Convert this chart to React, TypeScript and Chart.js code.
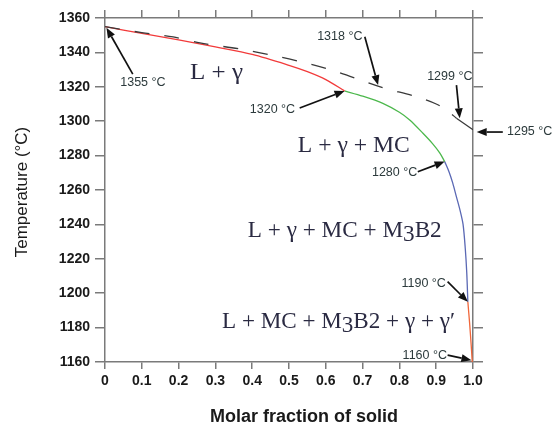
import React, { useEffect, useRef } from 'react';
import { Chart, registerables } from 'chart.js';

Chart.register(...registerables);

// ---- data ----
const xTickLabels = ['0', '0.1', '0.2', '0.3', '0.4', '0.5', '0.6', '0.7', '0.8', '0.9', '1.0'];
const yMin = 1160;
const yMax = 1360;
const yStep = 20;

// Dashed curve (equilibrium liquidus path)
const dashedX = [0, 0.1, 0.185, 0.258, 0.366, 0.45, 0.537, 0.629, 0.746, 0.846, 0.9, 0.928, 0.955];
const dashedT = [1355, 1351.5, 1349, 1345.5, 1342, 1338.5, 1334.3, 1328.8, 1320.1, 1314.2, 1310, 1306.5, 1301.7];
const dashedTailX = [0.955, 1.0];
const dashedTailT = [1301.7, 1295];

// Solidification path segments
const redX = [0, 0.1, 0.2, 0.3, 0.4, 0.5, 0.55, 0.6, 0.651];
const redT = [1355, 1351, 1347.3, 1343.2, 1338.8, 1332.5, 1328.8, 1324.2, 1317.6];
const greenX = [0.651, 0.7, 0.755, 0.8, 0.828, 0.864, 0.89, 0.91, 0.923];
const greenT = [1317.6, 1314.6, 1310.4, 1305.2, 1300.7, 1293, 1287, 1281.5, 1276.5];
const blueX = [0.923, 0.935, 0.945, 0.955, 0.965, 0.973, 0.979, 0.983, 0.986];
const blueT = [1276.5, 1270.5, 1264, 1256, 1248, 1240, 1226, 1212, 1195];
const orangeX = [0.986, 0.991, 0.995, 0.998];
const orangeT = [1195, 1182, 1170, 1160];

// Arrow annotations: label, label centre, arrow tail, arrow head (data coords)
const arrowLabels = ['1355 °C', '1320 °C', '1318 °C', '1299 °C', '1295 °C', '1280 °C', '1190 °C', '1160 °C'];
const arrowTextX = [0.103, 0.455, 0.638, 0.937, 1.154, 0.787, 0.866, 0.869];
const arrowTextT = [1322.2, 1306.5, 1349.2, 1325.7, 1293.8, 1269.9, 1205.9, 1164];
const arrowTailX = [0.0755, 0.529, 0.706, 0.955, 1.081, 0.85, 0.931, 0.931];
const arrowTailT = [1327.4, 1307.7, 1349.1, 1321, 1293.7, 1270.6, 1206.7, 1164];
const arrowHeadX = [0.004, 0.651, 0.742, 0.964, 1.01, 0.923, 0.986, 0.9957];
const arrowHeadT = [1354.3, 1317.6, 1321, 1301.7, 1293.7, 1276.5, 1195, 1161];

// Phase-region labels
const regionRuns = [
  [{ t: 'L + γ', dy: 0 }],
  [{ t: 'L + γ + MC', dy: 0 }],
  [{ t: 'L + γ + MC + M', dy: 0 }, { t: '3', dy: 4 }, { t: 'B2', dy: 0 }],
  [{ t: 'L + MC + M', dy: 0 }, { t: '3', dy: 4 }, { t: 'B2 + γ + γ′', dy: 0 }],
];
const regionX = [0.231, 0.524, 0.388, 0.318];
const regionT = [1324.4, 1282.1, 1232.9, 1179.8];
const regionW = [0.144, 0.304, 0.527, 0.633];
const regionSize = [24, 24, 24, 23];

const xTitle = 'Molar fraction of solid';
const yTitle = 'Temperature (°C)';

const pts = (xs: number[], ys: number[]) => xs.map((x, i) => ({ x, y: ys[i] }));

const AXIS = '#7a7a7a';
const TICK_FONT = { family: "'Liberation Sans', Arial, sans-serif", size: 14, weight: 'bold' as const };

const overlayPlugin = {
  id: 'overlay',
  afterDatasetsDraw(chart: any) {
    const ctx = chart.ctx as CanvasRenderingContext2D;
    const xs = chart.scales.x;
    const ys = chart.scales.y;
    const px = (v: number) => xs.getPixelForValue(v);
    const py = (v: number) => ys.getPixelForValue(v);

    ctx.save();
    // arrows
    for (let i = 0; i < arrowLabels.length; i++) {
      const x1 = px(arrowTailX[i]);
      const y1 = py(arrowTailT[i]);
      const x2 = px(arrowHeadX[i]);
      const y2 = py(arrowHeadT[i]);
      const ang = Math.atan2(y2 - y1, x2 - x1);
      const hl = 10;
      const hw = 4;
      const bx = x2 - hl * Math.cos(ang);
      const by = y2 - hl * Math.sin(ang);
      ctx.strokeStyle = '#111';
      ctx.fillStyle = '#111';
      ctx.lineWidth = 1.7;
      ctx.beginPath();
      ctx.moveTo(x1, y1);
      ctx.lineTo(bx, by);
      ctx.stroke();
      ctx.beginPath();
      ctx.moveTo(x2, y2);
      ctx.lineTo(bx + hw * Math.sin(ang), by - hw * Math.cos(ang));
      ctx.lineTo(bx - hw * Math.sin(ang), by + hw * Math.cos(ang));
      ctx.closePath();
      ctx.fill();

      ctx.font = "12.5px 'Liberation Sans', Arial, sans-serif";
      ctx.fillStyle = '#2c3a3c';
      ctx.textAlign = 'center';
      ctx.textBaseline = 'middle';
      ctx.fillText(arrowLabels[i], px(arrowTextX[i]), py(arrowTextT[i]));
    }

    // region labels
    for (let i = 0; i < regionRuns.length; i++) {
      const runs = regionRuns[i];
      ctx.font = `${regionSize[i]}px 'Liberation Serif', 'Times New Roman', serif`;
      ctx.fillStyle = '#2a2a42';
      ctx.textAlign = 'left';
      ctx.textBaseline = 'alphabetic';
      const total = runs.reduce((s, r) => s + ctx.measureText(r.t).width, 0);
      const target = px(regionX[i] + regionW[i]) - px(regionX[i]);
      const sx = target / total;
      ctx.save();
      ctx.translate(px(regionX[i]), py(regionT[i]));
      ctx.scale(sx, 1);
      let off = 0;
      for (const r of runs) {
        ctx.fillText(r.t, off, r.dy);
        off += ctx.measureText(r.t).width;
      }
      ctx.restore();
    }

    // axis titles
    ctx.fillStyle = '#1a1a1a';
    ctx.textAlign = 'center';
    ctx.textBaseline = 'middle';
    ctx.font = "bold 18px 'Liberation Sans', Arial, sans-serif";
    ctx.fillText(xTitle, (xs.left + xs.right) / 2 + 15, 417);
    ctx.save();
    ctx.translate(22, (ys.top + ys.bottom) / 2 + 2);
    ctx.rotate(-Math.PI / 2);
    ctx.font = "17px 'Liberation Sans', Arial, sans-serif";
    ctx.fillText(yTitle, 0, 0);
    ctx.restore();
    ctx.restore();
  },
};

export default function App() {
  const ref = useRef<HTMLCanvasElement | null>(null);

  useEffect(() => {
    if (!ref.current) return;
    const line = (data: any, color: string, dash: number[] = []) => ({
      data,
      borderColor: color,
      borderWidth: 1.3,
      borderDash: dash,
      pointRadius: 0,
      tension: 0.3,
      fill: false,
    });
    const chart = new Chart(ref.current, {
      type: 'line',
      data: {
        datasets: [
          line(pts(dashedX, dashedT), '#3a3a3a', [15, 15]),
          line(pts(dashedTailX, dashedTailT), '#3a3a3a'),
          line(pts(redX, redT), '#f23a3a'),
          line(pts(greenX, greenT), '#4cb84c'),
          line(pts(blueX, blueT), '#5a68b4'),
          line(pts(orangeX, orangeT), '#f0663a'),
        ] as any,
      },
      options: {
        animation: false,
        responsive: false,
        devicePixelRatio: 1,
        layout: { padding: { top: 18, right: 83, left: 0, bottom: 0 } },
        plugins: { legend: { display: false }, tooltip: { enabled: false } },
        scales: {
          x: {
            type: 'linear',
            position: 'bottom',
            min: 0,
            max: 1,
            afterBuildTicks: (s: any) => {
              s.ticks = xTickLabels.map((_, i) => ({ value: i / 10 }));
            },
            ticks: {
              autoSkip: false,
              maxRotation: 0,
              padding: 4,
              color: '#1a1a1a',
              font: TICK_FONT,
              callback: (_v: any, i: number) => xTickLabels[i],
            },
            grid: { drawOnChartArea: false, tickLength: 7, color: AXIS, lineWidth: 1.5 },
            border: { color: AXIS, width: 1.5 },
            afterFit: (s: any) => {
              s.height = 68;
            },
          },
          x2: {
            type: 'linear',
            position: 'top',
            axis: 'x',
            min: 0,
            max: 1,
            afterBuildTicks: (s: any) => {
              s.ticks = xTickLabels.map((_, i) => ({ value: i / 10 }));
            },
            ticks: { display: false },
            grid: { drawOnChartArea: false, tickLength: 8, color: AXIS, lineWidth: 1.5 },
            border: { color: AXIS, width: 1.5 },
            afterFit: (s: any) => {
              s.height = 0;
            },
          },
          y: {
            type: 'linear',
            position: 'left',
            min: yMin,
            max: yMax,
            ticks: {
              stepSize: yStep,
              padding: 5,
              color: '#1a1a1a',
              font: TICK_FONT,
              callback: (v: any) => String(v),
            },
            grid: { drawOnChartArea: false, tickLength: 10, color: AXIS, lineWidth: 1.5 },
            border: { color: AXIS, width: 1.5 },
            afterFit: (s: any) => {
              s.width = 105;
            },
          },
          y2: {
            type: 'linear',
            position: 'right',
            axis: 'y',
            min: yMin,
            max: yMax,
            ticks: { display: false, stepSize: yStep },
            grid: { drawOnChartArea: false, tickLength: 10, color: AXIS, lineWidth: 1.5 },
            border: { color: AXIS, width: 1.5 },
            afterFit: (s: any) => {
              s.width = 0;
            },
          },
        },
      } as any,
      plugins: [overlayPlugin],
    });
    return () => chart.destroy();
  }, []);

  return (
    <div style={{ position: 'fixed', left: 0, top: 0, width: 556, height: 430, background: '#fff' }}>
      <canvas ref={ref} width={556} height={430} style={{ display: 'block', width: 556, height: 430 }} />
    </div>
  );
}
